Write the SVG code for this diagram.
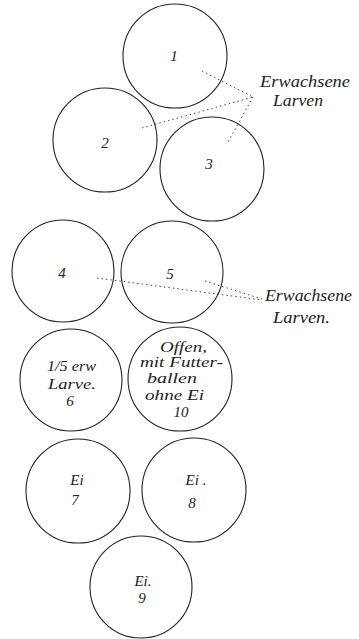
<svg xmlns="http://www.w3.org/2000/svg" width="359" height="639" viewBox="0 0 359 639">
<style>
.c{fill:none;stroke:#222;stroke-width:1.1}
.t{font-family:"Liberation Serif","DejaVu Serif",serif;font-style:italic;fill:#222;font-size:17px}
.s{font-family:"Liberation Serif","DejaVu Serif",serif;font-style:italic;fill:#222;font-size:14px}
.n{font-family:"Liberation Serif","DejaVu Serif",serif;font-style:italic;fill:#222;font-size:15px;text-anchor:middle}
.d{fill:none;stroke:#333;stroke-width:0.9;stroke-dasharray:1.5,3}
</style>
<rect width="359" height="639" fill="#fff"/>
<g id="connectors">
<polyline class="d" points="202,71 253,97 142,128"/>
<line class="d" x1="253" y1="97" x2="228" y2="142"/>
<line class="d" x1="97" y1="278" x2="262" y2="300"/>
<line class="d" x1="205" y1="281" x2="262" y2="299"/>
</g>
<g id="n1"><circle class="c" cx="175" cy="56" r="52"/><text class="n" x="174" y="61">1</text></g>
<g id="n2"><circle class="c" cx="105" cy="140" r="52"/><text class="n" x="105" y="148">2</text></g>
<g id="n3"><circle class="c" cx="212" cy="169" r="52"/><text class="n" x="209" y="169">3</text></g>
<g id="label1"><text class="t" x="260" y="87" textLength="90" lengthAdjust="spacingAndGlyphs">Erwachsene</text><text class="t" x="273" y="106" textLength="50" lengthAdjust="spacingAndGlyphs">Larven</text></g>
<g id="n4"><circle class="c" cx="63" cy="271" r="51"/><text class="n" x="62" y="278">4</text></g>
<g id="n5"><circle class="c" cx="172" cy="272" r="51"/><text class="n" x="170" y="279">5</text></g>
<g id="label2"><text class="t" x="265" y="301" textLength="87" lengthAdjust="spacingAndGlyphs">Erwachsene</text><text class="t" x="273" y="323" textLength="57" lengthAdjust="spacingAndGlyphs">Larven.</text></g>
<g id="n6"><circle class="c" cx="71" cy="380" r="51"/>
<text class="s" x="47" y="371" textLength="49" lengthAdjust="spacingAndGlyphs">1/5 erw</text>
<text class="s" x="48" y="389" textLength="48" lengthAdjust="spacingAndGlyphs">Larve.</text>
<text class="n" x="70" y="406">6</text></g>
<g id="n10"><circle class="c" cx="180" cy="379" r="52"/>
<text class="s" x="160" y="352" textLength="47" lengthAdjust="spacingAndGlyphs">Offen,</text>
<text class="s" x="140" y="367" textLength="83" lengthAdjust="spacingAndGlyphs">mit Futter-</text>
<text class="s" x="147" y="383" textLength="50" lengthAdjust="spacingAndGlyphs">ballen</text>
<text class="s" x="145" y="400" textLength="59" lengthAdjust="spacingAndGlyphs">ohne Ei</text>
<text class="n" x="181" y="417">10</text></g>
<g id="n7"><circle class="c" cx="78" cy="491" r="52"/><text class="n" x="77" y="485">Ei</text><text class="n" x="75" y="505">7</text></g>
<g id="n8"><circle class="c" cx="194" cy="490" r="52"/><text class="n" x="196" y="485">Ei .</text><text class="n" x="192" y="508">8</text></g>
<g id="n9"><circle class="c" cx="141" cy="587" r="51"/><text class="n" x="143" y="586">Ei.</text><text class="n" x="142" y="603">9</text></g>
</svg>
